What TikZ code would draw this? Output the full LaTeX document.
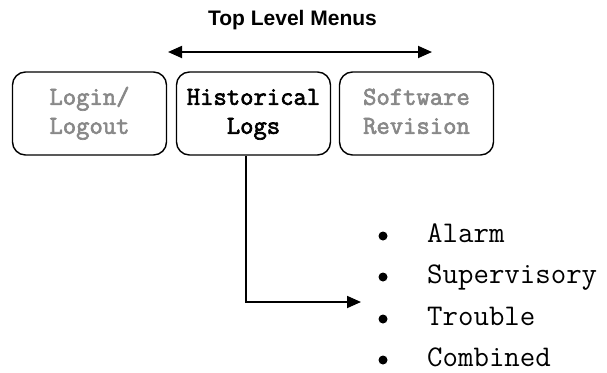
\documentclass[tikz,border=0pt]{standalone}
\usepackage{fontspec}
\setmainfont{Liberation Sans}
\newfontfamily\courbold{Latin Modern Mono}[FakeBold=2.5]
\usetikzlibrary{arrows.meta}
\definecolor{menugray}{RGB}{136,136,136}
\tikzset{
  menubox/.style={draw=black, line width=1.4pt, rounded corners=13pt, minimum width=154pt, minimum height=83pt, align=center, inner sep=0pt, font=\courbold\fontsize{25.9}{29}\selectfont},
  conn/.style={line width=1.8pt, -{Triangle[length=14pt,width=12pt]}},
  bul/.style={circle, fill=black, minimum size=9pt, inner sep=0pt},
  itemtxt/.style={anchor=base west, inner sep=0pt, font=\ttfamily\fontsize{30}{34}\selectfont},
}
\begin{document}
\begin{tikzpicture}[x=1pt,y=-1pt]
\useasboundingbox (0,0) rectangle (607,372);
\node[anchor=base, inner sep=0pt, font=\bfseries\fontsize{21}{24}\selectfont] (title) at (292.5,25) {Top Level Menus};
\coordinate (la) at (168,52);
\coordinate (ra) at (432,52);
\draw[line width=1.8pt, {Triangle[length=14pt,width=12pt]}-{Triangle[length=14pt,width=12pt]}] (la) -- (ra);
\node[menubox, text=menugray] (login) at (89.5,113.5) {\strut Login/\\\strut Logout};
\node[menubox] (hist) at (253.5,113.5) {\strut Historical\\\strut Logs};
\node[menubox, text=menugray] (soft) at (416.5,113.5) {\strut Software\\\strut Revision};
\coordinate (tip) at (361,302);
\draw[conn] ([xshift=-7.5pt]hist.south) |- (tip);
\node[bul] (b1) at (383,236) {};
\node[bul] (b2) at (383,277) {};
\node[bul] (b3) at (383,319) {};
\node[bul] (b4) at (383,360) {};
\node[itemtxt] (t1) at (427,242) {Alarm};
\node[itemtxt] (t2) at (427,283) {Supervisory};
\node[itemtxt] (t3) at (427,325) {Trouble};
\node[itemtxt] (t4) at (427,366) {Combined};
\end{tikzpicture}
\end{document}
